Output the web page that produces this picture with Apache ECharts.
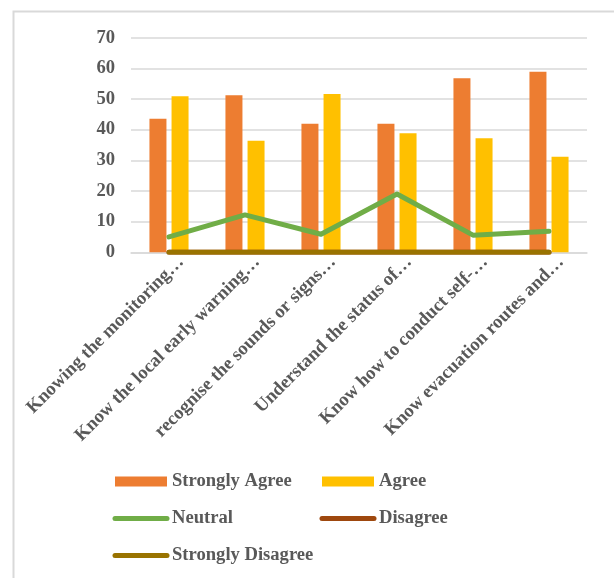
<!DOCTYPE html>
<html>
<head>
<meta charset="utf-8">
<script src="https://cdn.jsdelivr.net/npm/echarts@6/dist/echarts.min.js"></script>
<style>
    html, body { margin: 0; padding: 0; background: #fff; }
    #chart { width: 614px; height: 578px; }
</style>
</head>
<body>
<div id="chart"></div>
<script>
    // categories as they appear (truncated) on the axis
    var categories = [
        'Knowing the monitoring…',
        'Know the local early warning…',
        'recognise the sounds or signs…',
        'Understand the status of…',
        'Know how to conduct self-…',
        'Know evacuation routes and…'
    ];
    var stronglyAgree = [43.6, 51.2, 41.9, 41.9, 56.8, 58.9];
    var agree = [50.9, 36.4, 51.6, 38.8, 37.2, 31.2];
    var neutral = [5.0, 12.2, 5.9, 19.0, 5.6, 6.9];
    var disagree = [0, 0, 0, 0, 0, 0];
    var stronglyDisagree = [0, 0, 0, 0, 0, 0];

    var font = "'Liberation Serif', 'Times New Roman', serif";
    var textGray = '#595959';
    var fs = 18.6;

    var legendText = { fontFamily: font, fontWeight: 'bold', fontSize: fs, color: textGray, lineHeight: 18 };
    // hide the little symbol that line series put in their legend icon
    var noDot = { opacity: 0 };

    var option = {
        backgroundColor: '#fff',
        animation: false,
        graphic: [{
            type: 'rect',
            left: 11, top: 9,
            shape: { width: 700, height: 700 },
            style: { fill: 'none', stroke: '#d9d9d9', lineWidth: 2 },
            z: -1
        }],
        legend: [
            {
                orient: 'vertical',
                left: 112.5, top: 472, padding: 0,
                itemWidth: 52, itemHeight: 10, itemGap: 18,
                textStyle: legendText,
                lineStyle: { width: 5, cap: 'round' },
                data: [
                    { name: 'Strongly Agree', icon: 'rect' },
                    { name: 'Neutral', itemStyle: noDot },
                    { name: 'Strongly Disagree', itemStyle: noDot }
                ]
            },
            {
                orient: 'vertical',
                left: 319.5, top: 472, padding: 0,
                itemWidth: 52, itemHeight: 10, itemGap: 18,
                textStyle: legendText,
                lineStyle: { width: 5, cap: 'round' },
                data: [
                    { name: 'Agree', icon: 'rect' },
                    { name: 'Disagree', itemStyle: noDot }
                ]
            }
        ],
        grid: [
            { left: 131, right: 27, top: 37.7, bottom: 325.7 },
            // labels only, shifted to sit like the original
            { left: 143, right: 15, top: 37.7, bottom: 325.7 }
        ],
        xAxis: [
            {
                type: 'category',
                data: categories,
                gridIndex: 0,
                axisLine: { lineStyle: { color: '#d9d9d9', width: 1.5 } },
                axisTick: { show: false },
                axisLabel: { show: false }
            },
            {
                type: 'category',
                data: categories,
                gridIndex: 1,
                axisLine: { show: false },
                axisTick: { show: false },
                axisLabel: {
                    rotate: 45,
                    margin: 7,
                    interval: 0,
                    fontFamily: font,
                    fontWeight: 'bold',
                    fontSize: fs,
                    color: textGray
                }
            }
        ],
        yAxis: [
            {
                type: 'value',
                gridIndex: 0,
                min: 0, max: 70, interval: 10,
                axisLine: { show: false },
                axisTick: { show: false },
                splitLine: { lineStyle: { color: '#d9d9d9', width: 1.5 } },
                axisLabel: {
                    margin: 16,
                    fontFamily: font,
                    fontWeight: 'bold',
                    fontSize: fs,
                    color: textGray
                }
            },
            { type: 'value', gridIndex: 1, min: 0, max: 70, show: false }
        ],
        series: [
            {
                name: 'Strongly Agree', type: 'bar',
                data: stronglyAgree,
                barWidth: 17, barGap: '30%',
                itemStyle: { color: '#ED7D31' }
            },
            {
                name: 'Agree', type: 'bar',
                data: agree,
                barWidth: 17, barGap: '30%',
                itemStyle: { color: '#FFC000' }
            },
            {
                name: 'Neutral', type: 'line',
                data: neutral,
                symbol: 'none',
                lineStyle: { color: '#70AD47', width: 5, cap: 'round', join: 'round' },
                itemStyle: { color: '#70AD47' }
            },
            {
                name: 'Disagree', type: 'line',
                data: disagree,
                symbol: 'none',
                lineStyle: { color: '#9E480E', width: 5, cap: 'round' },
                itemStyle: { color: '#9E480E' }
            },
            {
                name: 'Strongly Disagree', type: 'line',
                data: stronglyDisagree,
                symbol: 'none',
                lineStyle: { color: '#997300', width: 5, cap: 'round' },
                itemStyle: { color: '#997300' }
            }
        ]
    };

    var chart = echarts.init(document.getElementById('chart'));
    chart.setOption(option);
</script>
</body>
</html>
